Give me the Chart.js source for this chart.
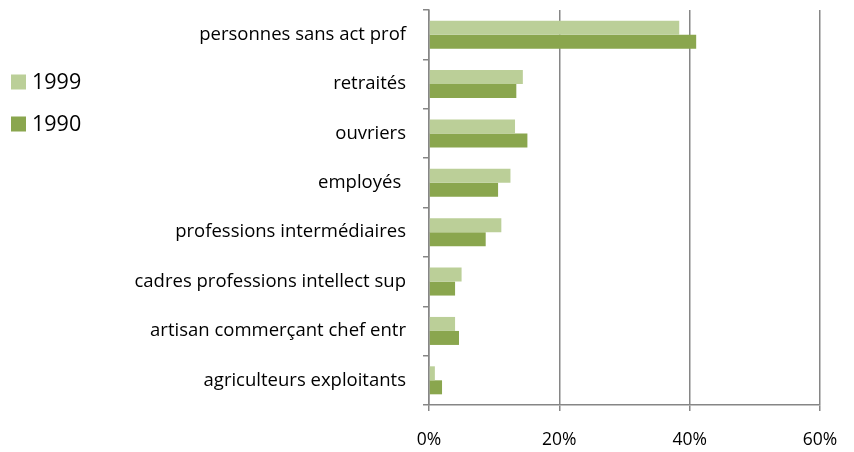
<!DOCTYPE html>
<html>
<head>
<meta charset="utf-8">
<script src="https://cdn.jsdelivr.net/npm/chart.js@4"></script>
<style>
  html, body { margin: 0; padding: 0; background: #fff; }
  #wrap { width: 854px; height: 452px; }
</style>
</head>
<body>
<div id="wrap"><canvas id="chart_canvas" width="854" height="452"></canvas></div>
<script>
const categories = [
  "personnes sans act prof",
  "retraités",
  "ouvriers",
  "employés ",
  "professions intermédiaires",
  "cadres professions intellect sup",
  "artisan commerçant chef entr",
  "agriculteurs exploitants"
]
const series_names = ["1999", "1990"]
const values_1999 = [38.4, 14.4, 13.2, 12.5, 11.1, 5.0, 4.0, 0.9]
const values_1990 = [41.0, 13.4, 15.1, 10.6, 8.7, 4.0, 4.6, 2.0]
const x_ticks = [0, 20, 40, 60]

const colors = ["#bbcf98", "#8aa64e"]
const axis_gray = "#868686"
const font_family = "'Open Sans', sans-serif"

// legend drawn at the left, like the original
const side_legend = {
  id: "side_legend",
  afterDraw(chart) {
    const ctx = chart.ctx
    ctx.save()
    ctx.font = "21.5px " + font_family
    ctx.textBaseline = "middle"
    chart.data.datasets.forEach((ds, i) => {
      const y = 82 + i * 42
      ctx.fillStyle = ds.backgroundColor
      ctx.fillRect(11, y - 7.5, 15, 15)
      ctx.fillStyle = "#000"
      ctx.fillText(ds.label, 32, y + 1)
    })
    ctx.restore()
  }
}

window.addEventListener("DOMContentLoaded", () => {
  const config = {
    type: "bar",
    data: {
      labels: categories,
      datasets: [
        { label: series_names[0], data: values_1999, backgroundColor: colors[0] },
        { label: series_names[1], data: values_1990, backgroundColor: colors[1] },
      ],
    },
    options: {
      indexAxis: "y",
      responsive: false,
      animation: false,
      layout: { padding: { left: 0, top: 10, right: 34, bottom: 0 } },
      datasets: { bar: { categoryPercentage: 0.567, barPercentage: 1.0 } },
      plugins: { legend: { display: false }, tooltip: { enabled: false } },
      scales: {
        x: {
          min: 0,
          max: 60,
          afterBuildTicks(scale) { scale.ticks = x_ticks.map(v => ({ value: v })) },
          afterFit(scale) { scale.height = 47; scale.paddingRight = 0 },
          grid: { color: axis_gray, lineWidth: 1.5, tickLength: 6, drawTicks: true },
          border: { display: true, color: axis_gray, width: 1.5 },
          ticks: {
            color: "#000",
            font: { family: font_family, size: 17.5 },
            padding: 19,
            callback: v => v + "%",
          },
        },
        y: {
          afterFit(scale) {
            scale.width = 429
            scale.paddingTop = 0
            scale.paddingBottom = 0
          },
          grid: { drawOnChartArea: false, color: axis_gray, lineWidth: 1.5, tickLength: 6, offset: true },
          border: { display: true, color: axis_gray, width: 1.5 },
          ticks: {
            color: "#000",
            font: { family: font_family, size: 18.5 },
            padding: 17,
          },
        },
      },
    },
    plugins: [side_legend],
  }

  new Chart(document.getElementById("chart_canvas").getContext("2d"), config)
})
</script>
</body>
</html>
